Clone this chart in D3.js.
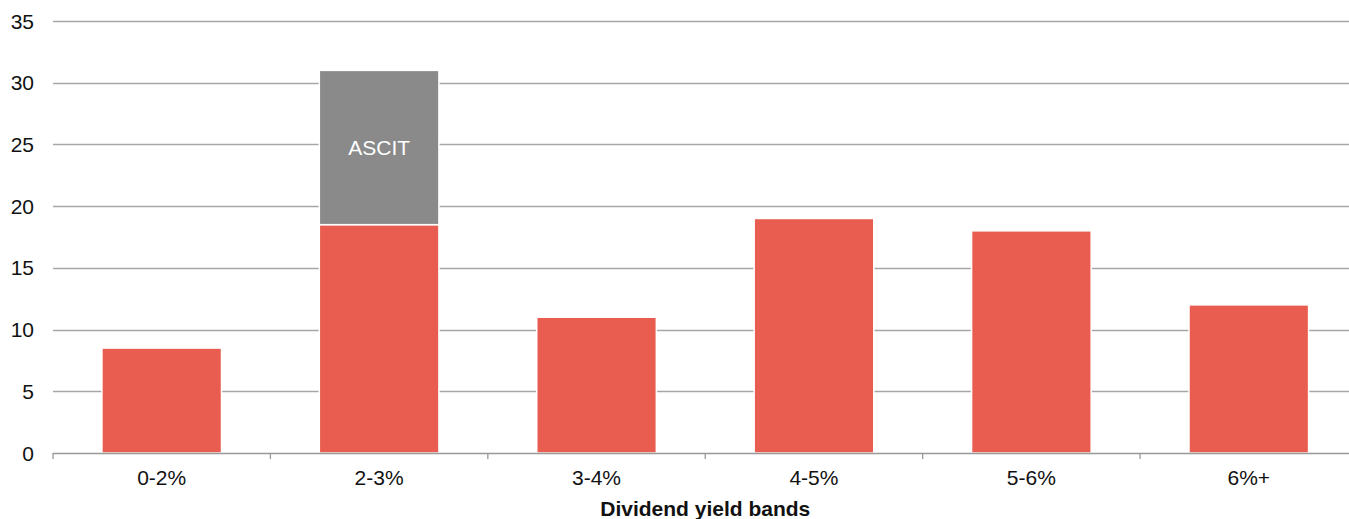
<!DOCTYPE html>
<html><head><meta charset="utf-8">
<script src="https://cdn.jsdelivr.net/npm/d3@7"></script>
<style>
html,body{margin:0;padding:0;background:#fff;overflow:hidden;}
text{font-family:"Liberation Sans",Arial,sans-serif;}
</style></head>
<body><svg id="c" width="1349" height="519"></svg>
<script>
const categories = ["0-2%","2-3%","3-4%","4-5%","5-6%","6%+"];
const baseValues = [8.5,18.5,11,19,18,12];
const ascitValues = [0,12.5,0,0,0,0];
const yTicks = [0,5,10,15,20,25,30,35];
const xTitle = "Dividend yield bands";
const ascitLabel = "ASCIT";

const svg = d3.select("#c");
const mLeft = 53, mRight = 1357.5, mTop = 21, mBottom = 453;
const fs = 21;
const x = d3.scaleBand().domain(categories).range([mLeft,mRight]).paddingInner(0.45).paddingOuter(0.225);
const y = d3.scaleLinear().domain([0,35]).range([mBottom,mTop]);

// gridlines
svg.append("g").selectAll("line").data(yTicks.filter(d=>d>0)).join("line")
  .attr("x1",mLeft).attr("x2",1349).attr("y1",d=>Math.round(y(d))+0.5).attr("y2",d=>Math.round(y(d))+0.5)
  .attr("stroke","#a6a6a6").attr("stroke-width",1.3);

// y labels
svg.append("g").selectAll("text").data(yTicks).join("text")
  .attr("x",34).attr("y",d=>y(d)).attr("dy","0.36em").attr("text-anchor","end")
  .attr("font-size",fs).attr("fill","#111").text(d=>d);

// bars
const stackData = categories.map((c,i)=>({c,base:baseValues[i],ascit:ascitValues[i]}));
svg.append("g").selectAll("rect").data(stackData).join("rect")
  .attr("x",d=>x(d.c)).attr("width",x.bandwidth())
  .attr("y",d=>y(d.base)).attr("height",d=>y(0)-y(d.base))
  .attr("fill","#e85d4f").attr("stroke","#fff").attr("stroke-width",1.5);
svg.append("g").selectAll("rect").data(stackData.filter(d=>d.ascit>0)).join("rect")
  .attr("x",d=>x(d.c)).attr("width",x.bandwidth())
  .attr("y",d=>y(d.base+d.ascit)).attr("height",d=>y(d.base)-y(d.base+d.ascit))
  .attr("fill","#8a8a8a").attr("stroke","#fff").attr("stroke-width",1.5);
svg.append("g").selectAll("text").data(stackData.filter(d=>d.ascit>0)).join("text")
  .attr("x",d=>x(d.c)+x.bandwidth()/2).attr("y",d=>y(d.base+d.ascit/2)).attr("dy","0.36em")
  .attr("text-anchor","middle").attr("font-size",fs).attr("fill","#fff").text(ascitLabel);

// x axis
const xa = svg.append("g");
xa.append("line").attr("x1",mLeft).attr("x2",1349).attr("y1",mBottom+0.5).attr("y2",mBottom+0.5)
  .attr("stroke","#999").attr("stroke-width",1.5);
const step = x.step();
xa.selectAll("line.t").data(d3.range(categories.length+1)).join("line").attr("class","t")
  .attr("x1",i=>mLeft+i*step).attr("x2",i=>mLeft+i*step).attr("y1",mBottom).attr("y2",mBottom+6)
  .attr("stroke","#999").attr("stroke-width",1.3);
xa.selectAll("text").data(categories).join("text")
  .attr("x",d=>x(d)+x.bandwidth()/2).attr("y",485).attr("text-anchor","middle")
  .attr("font-size",fs).attr("fill","#111").text(d=>d);

svg.append("text").attr("x",(mLeft+mRight)/2).attr("y",516).attr("text-anchor","middle")
  .attr("font-size",fs).attr("font-weight","bold").attr("fill","#111").text(xTitle);
</script></body></html>
